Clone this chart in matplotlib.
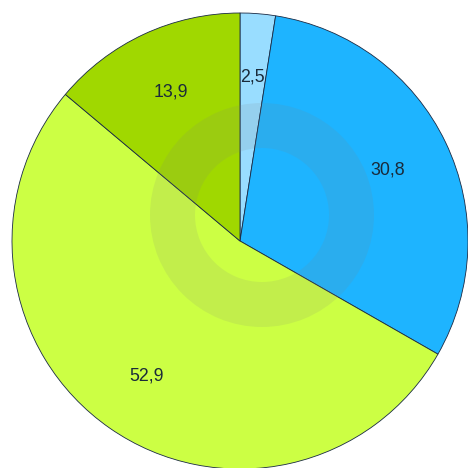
import numpy as np
import matplotlib
matplotlib.use('Agg')
import matplotlib.pyplot as plt
from matplotlib.patches import Wedge

values = [2.5, 30.8, 52.9, 13.9]
labels = ['2,5', '30,8', '52,9', '13,9']
colors = ['#99DDFF', '#1EB4FF', '#CCFF44', '#A0D800']

fig = plt.figure(figsize=(4.68, 4.68), dpi=100)
ax = fig.add_axes([0, 0, 1, 1])

cx, cy, r = 240, 241, 228

# pie, clockwise from the top (y axis is flipped so go counterclock in data)
wedges, texts = ax.pie(values, labels=labels, colors=colors, startangle=-90,
                       counterclock=True, center=(cx, cy), radius=r,
                       labeldistance=0.72, frame=True,
                       wedgeprops=dict(edgecolor='#1a2a44', linewidth=0.6),
                       textprops=dict(fontsize=12.8, color='#1a2a3a',
                                      family='Liberation Sans'))
for t in texts:
    t.set_ha('center')
    t.set_va('center')
ax.set_xlim(0, 468)
ax.set_ylim(468, 0)
ax.set_aspect('equal')
ax.axis('off')

# faint watermark ring
ax.add_patch(Wedge((262, 215), 112, 0, 360, width=45, facecolor='#808080',
                   alpha=0.13, edgecolor='none'))

fig.savefig('out.png', dpi=100)
